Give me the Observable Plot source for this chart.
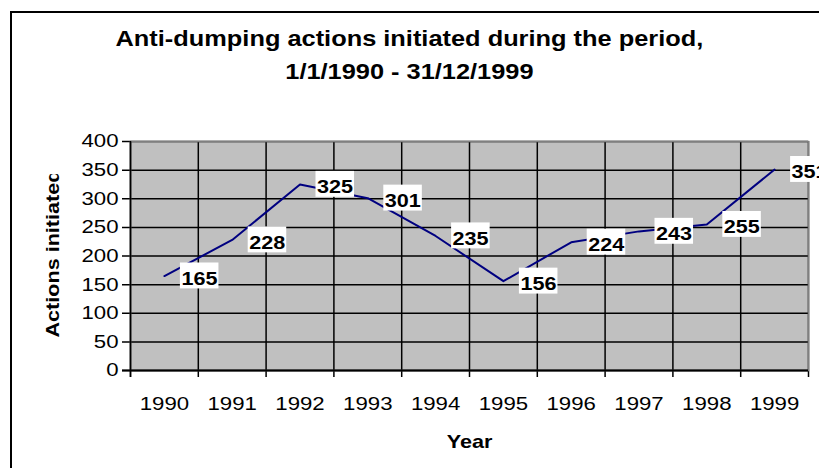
<!DOCTYPE html>
<html><head><meta charset="utf-8">
<script src="https://cdn.jsdelivr.net/npm/d3@7"></script>
<script src="https://cdn.jsdelivr.net/npm/@observablehq/plot@0.6"></script>
<style>
html,body{margin:0;padding:0;background:#fff;overflow:hidden}
#wrap{position:relative;width:819px;height:468px;overflow:hidden;font-family:"Liberation Sans",Arial,sans-serif;color:#000}
#border{position:absolute;left:10px;top:11px;width:900px;height:600px;border:2px solid #000;box-sizing:border-box;pointer-events:none}
#title{width:819px;height:100px;box-sizing:border-box;padding-top:23px;text-align:center;font-weight:bold;font-size:21.5px;line-height:33px;transform:scaleX(1.18);transform-origin:410px 0;white-space:nowrap}
#chart svg{display:block}
</style></head>
<body><div id="wrap"><div id="border"></div><div id="title"></div><div id="chart"></div></div>
<script>
const titleLines = ["Anti-dumping actions initiated during the period,", "1/1/1990 - 31/12/1999"];
const years = [1990, 1991, 1992, 1993, 1994, 1995, 1996, 1997, 1998, 1999];
const actions = [165, 228, 325, 301, 235, 156, 224, 243, 255, 351];
const yTicks = [0, 50, 100, 150, 200, 250, 300, 350, 400];
const xTitle = "Year";
const yTitle = "Actions initiated";

const titleEl = document.getElementById("title");
titleLines.forEach(s => { const d = document.createElement("div"); d.textContent = s; titleEl.appendChild(d); });

const data = years.map((year, i) => ({year, value: actions[i]}));
const bounds = [years[0] - 0.5, ...years.map(y => y + 0.5)];

const plot = Plot.plot({
  width: 819, height: 368,
  marginTop: 41, marginBottom: 98, marginLeft: 130, marginRight: 11,
  style: {fontFamily: '"Liberation Sans", Arial, sans-serif', fontSize: "18.5px", background: "transparent", color: "#000", overflow: "visible"},
  x: {domain: [bounds[0], bounds[bounds.length - 1]]},
  y: {domain: [0, 400]},
  marks: [
    Plot.frame({fill: "#C0C0C0"}),
    Plot.ruleY(yTicks, {stroke: "#000", strokeWidth: 1.5, insetLeft: -8}),
    Plot.ruleX(bounds, {stroke: "#000", strokeWidth: 1.5, insetBottom: -7}),
    Plot.frame({stroke: "#808080", strokeWidth: 1.5}),
    Plot.ruleX([bounds[0]], {stroke: "#000", strokeWidth: 1.5, insetBottom: -7}),
    Plot.ruleY([0], {stroke: "#000", strokeWidth: 2, insetLeft: -8}),
    Plot.axisY({ticks: yTicks, tickSize: 0, tickPadding: 12, label: null}),
    Plot.axisX({ticks: years, tickFormat: d => String(d), tickSize: 0, tickPadding: 26, label: null}),
    Plot.line(data, {x: "year", y: "value", stroke: "#000080", strokeWidth: 2}),
    Plot.text(data, {x: "year", y: "value", text: d => String(d.value), textAnchor: "start", dx: 17, dy: 3, fontWeight: "bold", fontSize: 18, fill: "#000", ariaDescription: "datalabels"}),
    Plot.text([xTitle], {text: d => d, frameAnchor: "bottom", lineAnchor: "bottom", dy: 77, fontWeight: "bold", fontSize: 18, fill: "#000", ariaDescription: "xtitle"}),
    Plot.text([yTitle], {text: d => d, frameAnchor: "left", rotate: -90, textAnchor: "start", lineAnchor: "bottom", dx: -72, dy: 81.5, fontWeight: "bold", fontSize: 18, fill: "#000", ariaDescription: "ytitle"})
  ]
});
document.getElementById("chart").appendChild(plot);

const NS = "http://www.w3.org/2000/svg";
const svg = plot.tagName.toLowerCase() === "svg" ? plot : plot.querySelector("svg");
const SX = 1.2;
svg.querySelectorAll("text").forEach(t => {
  const tr = t.getAttribute("transform");
  if (tr) t.setAttribute("transform", tr + ` scale(${SX},1)`);
  else {
    const x = +t.getAttribute("x") || 0, y = +t.getAttribute("y") || 0;
    t.removeAttribute("x"); t.removeAttribute("y");
    t.setAttribute("transform", `translate(${x},${y}) scale(${SX},1)`);
  }
});

function findGroup(desc, str) {
  let g = svg.querySelector(`g[aria-description="${desc}"]`);
  if (!g) {
    const t = Array.from(svg.querySelectorAll("text")).find(t => t.textContent === str);
    if (t) g = t.parentNode;
  }
  return g;
}

const sr = svg.getBoundingClientRect();
const labelG = findGroup("datalabels", String(actions[0]));
if (labelG) {
  const boxG = document.createElementNS(NS, "g");
  labelG.querySelectorAll("text").forEach(t => {
    const r = t.getBoundingClientRect();
    const rect = document.createElementNS(NS, "rect");
    rect.setAttribute("x", r.left - sr.left - 1.5);
    rect.setAttribute("y", r.top - sr.top - 6);
    rect.setAttribute("width", r.width + 2.5);
    rect.setAttribute("height", r.height + 6);
    rect.setAttribute("fill", "#fff");
    boxG.appendChild(rect);
  });
  labelG.parentNode.insertBefore(boxG, labelG);
}

const yG = findGroup("ytitle", yTitle);
if (yG) {
  const yt = yG.querySelector("text");
  const r = yt.getBoundingClientRect();
  const clipTop = r.top - sr.top + 4.5;
  const defs = document.createElementNS(NS, "defs");
  const cp = document.createElementNS(NS, "clipPath");
  cp.setAttribute("id", "yclip");
  cp.setAttribute("clipPathUnits", "userSpaceOnUse");
  const cr = document.createElementNS(NS, "rect");
  cr.setAttribute("x", 0); cr.setAttribute("y", clipTop);
  cr.setAttribute("width", 819); cr.setAttribute("height", 1000);
  cp.appendChild(cr); defs.appendChild(cp); svg.insertBefore(defs, svg.firstChild);
  const wrapG = document.createElementNS(NS, "g");
  wrapG.setAttribute("clip-path", "url(#yclip)");
  yG.parentNode.insertBefore(wrapG, yG);
  wrapG.appendChild(yG);
}
</script>
</body></html>
